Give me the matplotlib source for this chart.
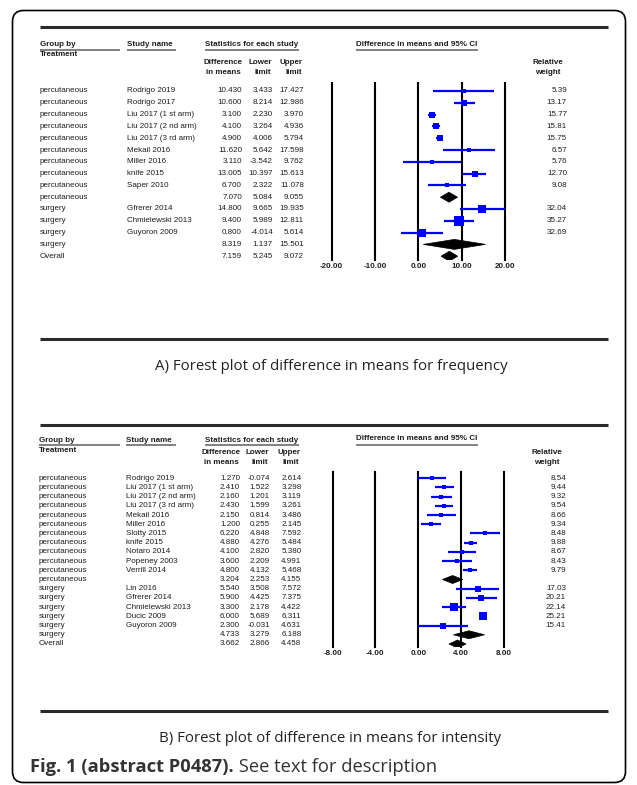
import numpy as np
import matplotlib
matplotlib.use('Agg')
import matplotlib.pyplot as plt
from matplotlib import transforms as mtransforms
from matplotlib.patches import FancyBboxPatch, Polygon

plt.rcParams['font.family'] = ['Liberation Sans', 'DejaVu Sans']

# ---------------- Data: Panel A (frequency) ----------------
groups_a = ['percutaneous'] * 10 + ['surgery'] * 4 + ['Overall']
studies_a = ['Rodrigo 2019', 'Rodrigo 2017', 'Liu 2017 (1 st arm)', 'Liu 2017 (2 nd arm)',
             'Liu 2017 (3 rd arm)', 'Mekail 2016', 'Miller 2016', 'knife 2015', 'Saper 2010', '',
             'Gfrerer 2014', 'Chmielewski 2013', 'Guyoron 2009', '', '']
diff_a = [10.430, 10.600, 3.100, 4.100, 4.900, 11.620, 3.110, 13.005, 6.700, 7.070,
          14.800, 9.400, 0.800, 8.319, 7.159]
lower_a = [3.433, 8.214, 2.230, 3.264, 4.006, 5.642, -3.542, 10.397, 2.322, 5.084,
           9.665, 5.989, -4.014, 1.137, 5.245]
upper_a = [17.427, 12.986, 3.970, 4.936, 5.794, 17.598, 9.762, 15.613, 11.078, 9.055,
           19.935, 12.811, 5.614, 15.501, 9.072]
weight_a = [5.39, 13.17, 15.77, 15.81, 15.75, 6.57, 5.76, 12.70, 9.08, None,
            32.04, 35.27, 32.69, None, None]
ticks_a = [-20, -10, 0, 10, 20]

# ---------------- Data: Panel B (intensity) ----------------
groups_b = ['percutaneous'] * 12 + ['surgery'] * 6 + ['Overall']
studies_b = ['Rodrigo 2019', 'Liu 2017 (1 st arm)', 'Liu 2017 (2 nd arm)', 'Liu 2017 (3 rd arm)',
             'Mekail 2016', 'Miller 2016', 'Slotty 2015', 'knife 2015', 'Notaro 2014',
             'Popeney 2003', 'Verrill 2014', '',
             'Lin 2016', 'Gfrerer 2014', 'Chmielewski 2013', 'Ducic 2009', 'Guyoron 2009', '', '']
diff_b = [1.270, 2.410, 2.160, 2.430, 2.150, 1.200, 6.220, 4.880, 4.100, 3.600, 4.800, 3.204,
          5.540, 5.900, 3.300, 6.000, 2.300, 4.733, 3.662]
lower_b = [-0.074, 1.522, 1.201, 1.599, 0.814, 0.255, 4.848, 4.276, 2.820, 2.209, 4.132, 2.253,
           3.508, 4.425, 2.178, 5.689, -0.031, 3.279, 2.866]
upper_b = [2.614, 3.298, 3.119, 3.261, 3.486, 2.145, 7.592, 5.484, 5.380, 4.991, 5.468, 4.155,
           7.572, 7.375, 4.422, 6.311, 4.631, 6.188, 4.458]
weight_b = [8.54, 9.44, 9.32, 9.54, 8.66, 9.34, 8.48, 9.88, 8.67, 8.43, 9.79, None,
            17.03, 20.21, 22.14, 25.21, 15.41, None, None]
ticks_b = [-8, -4, 0, 4, 8]

caption_a = 'A) Forest plot of difference in means for frequency'
caption_b = 'B) Forest plot of difference in means for intensity'
fig_bold = 'Fig. 1 (abstract P0487).'
fig_rest = ' See text for description'

# ---------------- Figure ----------------
W, H = 637, 785
fig = plt.figure(figsize=(W / 100, H / 100), dpi=100)
bg = fig.add_axes([0, 0, 1, 1])
bg.set_xlim(0, W)
bg.set_ylim(H, 0)
bg.axis('off')

border = FancyBboxPatch((12.5, 10.5), 613, 772, boxstyle='round,pad=0,rounding_size=11',
                        fill=False, ec='black', lw=1.2, transform=bg.transData)
bg.add_patch(border)

TXT = '#1e1e1e'
FS = 5.8


def px_axes(x0, y0, x1, y1):
    return fig.add_axes([x0 / W, 1 - y1 / H, (x1 - x0) / W, (y1 - y0) / H])


def panel(groups, studies, diff, lower, upper, weight, ticks, cfg):
    ax = px_axes(cfg['x0'], cfg['top'], cfg['x1'], cfg['bot'])
    ax.patch.set_alpha(0)
    r0, dy = cfg['row0'], cfg['dy']
    ax.set_xlim(ticks[0], ticks[-1])
    ax.set_ylim((cfg['bot'] - r0) / dy, (cfg['top'] - r0) / dy)
    for s in ax.spines.values():
        s.set_visible(False)
    ax.set_yticks([])
    ax.set_xticks(ticks)
    ax.set_xticklabels(['%.2f' % t for t in ticks], fontsize=FS, fontweight='bold', color=TXT)
    ax.tick_params(axis='x', length=0, pad=2.2)
    for t in ticks:
        ax.axvline(t, color='black', lw=1.5, clip_on=False, zorder=1)

    n = len(diff)
    hh = cfg['dh'] / dy
    T = mtransforms.blended_transform_factory(bg.transData, ax.transData)
    for i in range(n):
        if weight[i] is not None:
            ax.plot([lower[i], upper[i]], [i, i], color='#0000ff', lw=1.6,
                    solid_capstyle='butt', zorder=3)
            ax.plot([diff[i]], [i], marker='s', color='#0000ff',
                    ms=1.12 * np.sqrt(weight[i]), mew=0, zorder=4)
            bg.text(cfg['cw'], i, '%.2f' % weight[i], transform=T, ha='right', va='center',
                    fontsize=FS, color=TXT)
        else:
            poly = Polygon([(lower[i], i), (diff[i], i - hh), (upper[i], i), (diff[i], i + hh)],
                           closed=True, fc='black', ec='black', lw=0.5, zorder=4)
            ax.add_patch(poly)
        bg.text(cfg['cg'], i, groups[i], transform=T, ha='left', va='center', fontsize=FS, color=TXT)
        bg.text(cfg['cs'], i, studies[i], transform=T, ha='left', va='center', fontsize=FS, color=TXT)
        bg.text(cfg['cd'], i, '%.3f' % diff[i], transform=T, ha='right', va='center', fontsize=FS, color=TXT)
        bg.text(cfg['cl'], i, '%.3f' % lower[i], transform=T, ha='right', va='center', fontsize=FS, color=TXT)
        bg.text(cfg['cu'], i, '%.3f' % upper[i], transform=T, ha='right', va='center', fontsize=FS, color=TXT)

    # headers
    hy, uy, ty, h1, h2 = cfg['hy'], cfg['uy'], cfg['ty'], cfg['h1'], cfg['h2']
    kw = dict(fontsize=FS, fontweight='bold', color=TXT, va='center')
    bg.text(cfg['cg'], hy, 'Group by', ha='left', **kw)
    bg.text(cfg['cg'], ty, 'Treatment', ha='left', **kw)
    bg.text(cfg['cs'], hy, 'Study name', ha='left', **kw)
    bg.text(205, hy, 'Statistics for each study', ha='left', **kw)
    bg.text(356, hy - 1, 'Difference in means and 95% CI', ha='left', **kw)
    bg.text(cfg['cd'], h1, 'Difference', ha='right', **kw)
    bg.text(cfg['cd'] - 1, h2, 'in means', ha='right', **kw)
    bg.text(cfg['cl'] - 1, h1, 'Lower', ha='right', **kw)
    bg.text(cfg['cl'] - 2, h2, 'limit', ha='right', **kw)
    bg.text(cfg['cu'] - 1, h1, 'Upper', ha='right', **kw)
    bg.text(cfg['cu'] - 2, h2, 'limit', ha='right', **kw)
    bg.text(cfg['cw'] - 19, h1, 'Relative', ha='center', **kw)
    bg.text(cfg['cw'] - 19, h2, 'weight', ha='center', **kw)
    for (a, b) in [(cfg['cg'], 120), (cfg['cs'], 176), (205, 299), (356, 478)]:
        bg.plot([a, b], [uy, uy], color='#777777', lw=1.3, solid_capstyle='butt')
    return ax


cfg_a = dict(x0=331.7, x1=505.0, top=83, bot=260, row0=91.0, dy=11.8, dh=5.0,
             cg=40, cs=127, cd=242, cl=273, cu=304, cw=567,
             hy=45, uy=49.5, ty=55, h1=62, h2=73)
cfg_b = dict(x0=332.5, x1=504.0, top=472, bot=647, row0=478.2, dy=9.21, dh=4.0,
             cg=39, cs=126, cd=240, cl=270, cu=301.5, cw=566,
             hy=440, uy=444.5, ty=450, h1=453, h2=463)

panel(groups_a, studies_a, diff_a, lower_a, upper_a, weight_a, ticks_a, cfg_a)
panel(groups_b, studies_b, diff_b, lower_b, upper_b, weight_b, ticks_b, cfg_b)

# panel rules
for y in [27, 339, 425, 711]:
    bg.plot([40, 608], [y, y], color='#2a2a2a', lw=2.2, solid_capstyle='butt')

cap_font = ['Open Sans', 'DejaVu Sans']
bg.text(331, 366, caption_a, ha='center', va='center', fontsize=10.8, family=cap_font, color='#222222')
bg.text(330, 739, caption_b, ha='center', va='center', fontsize=10.8, family=cap_font, color='#222222')

t1 = bg.text(30, 767, fig_bold, ha='left', va='center', fontsize=13.2, fontweight='bold',
             family=cap_font, color='#333333')
r = fig.canvas.get_renderer()
bb = t1.get_window_extent(r)
bg.text(bb.x1, 767, fig_rest, ha='left', va='center', fontsize=13.2, family=cap_font, color='#333333')

fig.savefig('out.png', dpi=100)
